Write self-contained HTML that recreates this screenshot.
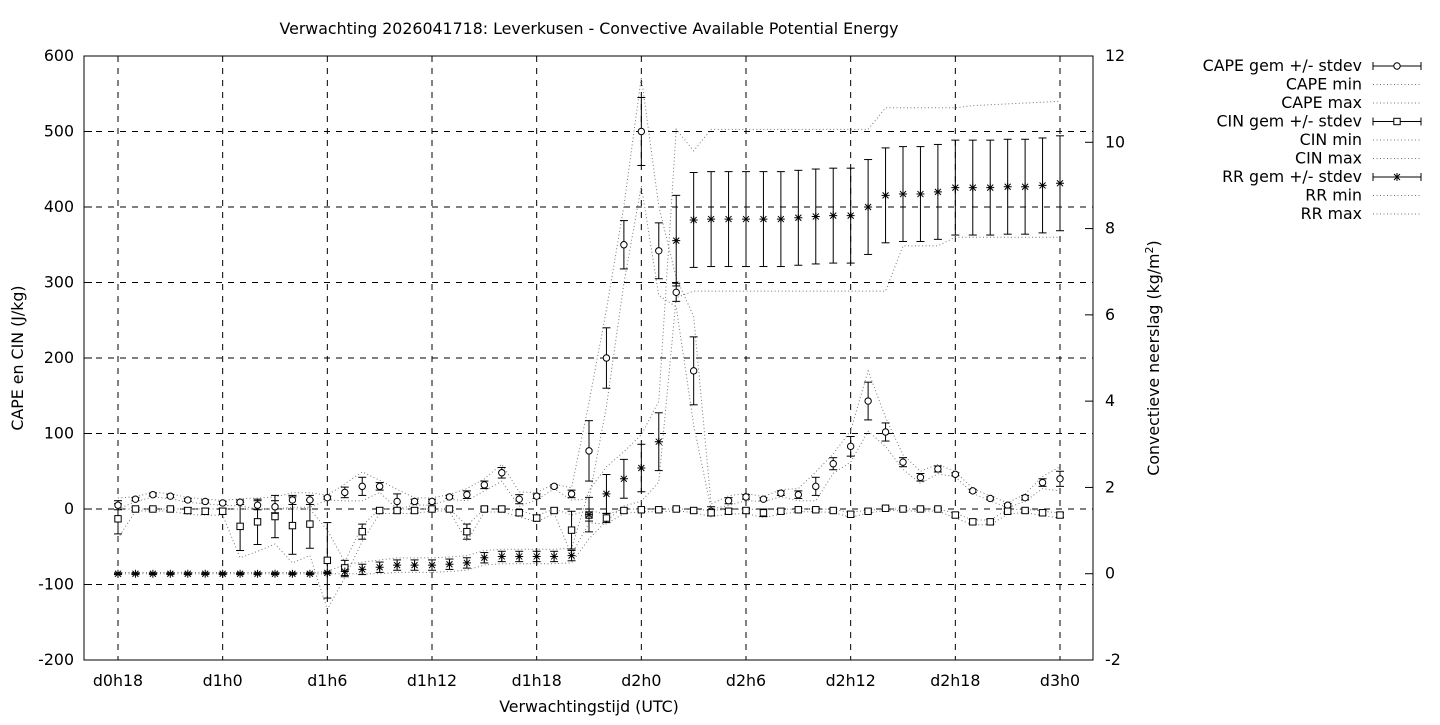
<!DOCTYPE html>
<html><head><meta charset="utf-8"><style>
body{margin:0;background:#fff}
svg text{font-family:"DejaVu Sans","Liberation Sans",sans-serif;font-size:15.8px;fill:#000}
</style></head><body>
<svg id="s" width="1440" height="720" xmlns="http://www.w3.org/2000/svg"></svg>
<script>
const L=84,R=1093,T=56,B=660;
const yl=v=>B-(v+200)*(B-T)/800;
const yr=v=>B-(v+2)*(B-T)/14;
const xi=i=>118+i*(1060-118)/54;
let h='';
h+=`<text x="589" y="34" text-anchor="middle">Verwachting 2026041718: Leverkusen - Convective Available Potential Energy</text>`;
for(let v=-200;v<=600;v+=100){const y=yl(v);
 if(v>-200&&v<600)h+=`<line x1="${L}" x2="${R}" y1="${y}" y2="${y}" stroke="#000" stroke-dasharray="6,6" stroke-width="1"/>`;
 h+=`<line x1="${L}" x2="${L+8}" y1="${y}" y2="${y}" stroke="#000"/>`;
 h+=`<text x="74" y="${y+5}" text-anchor="end">${v}</text>`;}
for(let v=-2;v<=12;v+=2){const y=yr(v);
 h+=`<line x1="${R-8}" x2="${R}" y1="${y}" y2="${y}" stroke="#000"/>`;
 h+=`<text x="1105" y="${y+5}">${v}</text>`;}
const lab=['d0h18','d1h0','d1h6','d1h12','d1h18','d2h0','d2h6','d2h12','d2h18','d3h0'];
lab.forEach((t,k)=>{const x=xi(k*6);
 h+=`<line x1="${x}" x2="${x}" y1="${T}" y2="${B}" stroke="#000" stroke-dasharray="6,6"/>`;
 h+=`<text x="${x}" y="686" text-anchor="middle">${t}</text>`;});
h+=`<rect x="${L}" y="${T}" width="${R-L}" height="${B-T}" fill="none" stroke="#000"/>`;
h+=`<text x="589" y="712" text-anchor="middle">Verwachtingstijd (UTC)</text>`;
h+=`<text transform="translate(23,358) rotate(-90)" text-anchor="middle">CAPE en CIN (J/kg)</text>`;
h+=`<text transform="translate(1159,358) rotate(-90)" text-anchor="middle">Convectieve neerslag (kg/m<tspan dy="-6" font-size="11">2</tspan><tspan dy="6">)</tspan></text>`;
const cape=[5,13,19,17,12,10,8,9,5,3,12,12,15,22,30,30,10,10,10,16,19,32,48,13,17,30,20,77,200,350,500,342,287,183,-3,11,16,13,21,19,30,60,83,143,102,62,42,53,46,24,14,5,15,35,40];
const csd=[6,2,2,2,2,2,2,3,6,8,6,6,2,7,12,5,10,3,3,2,5,5,7,6,3,2,5,40,40,32,45,37,12,45,6,4,3,2,3,5,12,8,13,25,12,6,5,4,2,2,2,2,3,5,10];
const cin=[-13,0,0,0,-2,-3,-3,-23,-17,-10,-22,-20,-68,-78,-30,-2,-2,-2,0,0,-30,0,0,-5,-12,-2,-28,-8,-12,-2,-1,-1,0,-2,-5,-3,-2,-5,-3,-1,-1,-2,-7,-3,1,0,0,0,-8,-17,-17,-3,-2,-5,-8];
const nsd=[20,2,2,2,4,4,4,32,30,28,38,32,50,10,10,3,3,3,2,2,10,3,3,4,4,3,25,8,6,3,2,2,2,2,4,3,3,5,3,2,2,2,3,2,2,2,2,2,3,3,3,3,2,3,3];
const rr=[0,0,0,0,0,0,0,0,0,0,0,0,0.02,0.05,0.1,0.15,0.2,0.2,0.2,0.22,0.25,0.37,0.4,0.4,0.4,0.4,0.42,1.37,1.85,2.2,2.45,3.06,7.72,8.2,8.22,8.22,8.22,8.22,8.22,8.25,8.28,8.3,8.3,8.5,8.77,8.8,8.8,8.85,8.95,8.95,8.95,8.97,8.97,9.0,9.05];
const rsd=rr.map((v,i)=>i<13?0.02:i<27?0.12:i<32?[0.4,0.45,0.45,0.55,0.67][i-27]:i==32?1.05:1.1);
function dotted(arr,f){return `<polyline fill="none" stroke="#777" stroke-width="1" stroke-dasharray="1,2.5" points="${arr.map((v,i)=>xi(i)+','+f(v)).join(' ')}"/>`;}
h+=dotted(cape.map((v,i)=>Math.max(0,v-csd[i]*1.6)),yl);
h+=dotted(cape.map((v,i)=>v+csd[i]*1.6),yl);
h+=dotted(cin.map((v,i)=>v-nsd[i]*1.3),yl);
h+=dotted(cin.map((v,i)=>Math.min(0,v+nsd[i]*0.8)),yl);
const rmax=rr.map((v,i)=>i<32?v+rsd[i]*1.4:i<44?10.3:i<49?10.8:10.85+(i-49)*0.02);
const rmin=rr.map((v,i)=>i<32?Math.max(0,v-rsd[i]*1.4):i<45?6.55:i<48?7.6:7.8);
rmax[33]=9.8;rmin[32]=6.4;
h+=dotted(rmax,yr);h+=dotted(rmin,yr);
function eb(x,y1,y2){return `<line x1="${x}" x2="${x}" y1="${y1}" y2="${y2}" stroke="#000"/><line x1="${x-4}" x2="${x+4}" y1="${y1}" y2="${y1}" stroke="#000"/><line x1="${x-4}" x2="${x+4}" y1="${y2}" y2="${y2}" stroke="#000"/>`;}
function star(x,y){return `<path d="M${x-4} ${y}h8M${x} ${y-4}v8M${x-3} ${y-3}l6 6M${x-3} ${y+3}l6 -6" stroke="#000"/>`;}
for(let i=0;i<55;i++){const x=xi(i);
 h+=eb(x,yl(cape[i]-csd[i]),yl(cape[i]+csd[i]));
 h+=eb(x,yl(cin[i]-nsd[i]),yl(cin[i]+nsd[i]));
 h+=eb(x,yr(rr[i]-rsd[i]),yr(rr[i]+rsd[i]));
 h+=`<circle cx="${x}" cy="${yl(cape[i])}" r="3.2" fill="#fff" stroke="#000"/>`;
 h+=`<rect x="${x-3.2}" y="${yl(cin[i])-3.2}" width="6.4" height="6.4" fill="#fff" stroke="#000"/>`;
 h+=star(x,yr(rr[i]));}
const leg=['CAPE gem +/- stdev','CAPE min','CAPE max','CIN gem +/- stdev','CIN min','CIN max','RR gem +/- stdev','RR min','RR max'];
leg.forEach((t,k)=>{const y=66+k*18.5;
 h+=`<text x="1362" y="${y+5}" text-anchor="end">${t}</text>`;
 if(k%3==0){h+=`<line x1="1373" x2="1421" y1="${y}" y2="${y}" stroke="#000"/><line x1="1373" x2="1373" y1="${y-4}" y2="${y+4}" stroke="#000"/><line x1="1421" x2="1421" y1="${y-4}" y2="${y+4}" stroke="#000"/>`;
  if(k==0)h+=`<circle cx="1397" cy="${y}" r="3.2" fill="#fff" stroke="#000"/>`;
  if(k==3)h+=`<rect x="1393.8" y="${y-3.2}" width="6.4" height="6.4" fill="#fff" stroke="#000"/>`;
  if(k==6)h+=star(1397,y);}
 else h+=`<line x1="1373" x2="1421" y1="${y}" y2="${y}" stroke="#777" stroke-dasharray="1,2.5"/>`;});
document.getElementById('s').innerHTML=h;
</script>
</body></html>
